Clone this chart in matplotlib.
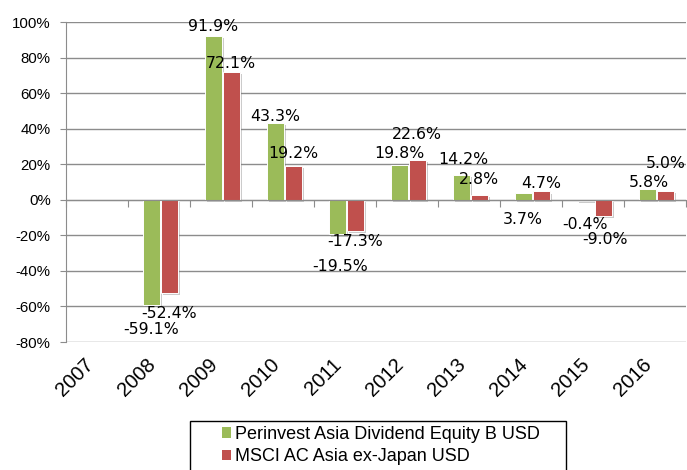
import matplotlib
matplotlib.use('Agg')
import matplotlib.pyplot as plt
import matplotlib.patheffects as pe
from matplotlib.patches import Patch, Rectangle
import numpy as np

years = ['2007', '2008', '2009', '2010', '2011', '2012', '2013', '2014', '2015', '2016']
perinvest = [np.nan, -59.1, 91.9, 43.3, -19.5, 19.8, 14.2, 3.7, -0.4, 5.8]
msci = [np.nan, -52.4, 72.1, 19.2, -17.3, 22.6, 2.8, 4.7, -9.0, 5.0]
series_names = ['Perinvest Asia Dividend Equity B USD', 'MSCI AC Asia ex-Japan USD']

# label placement tweaks (pixels, relative to bar end) - mimics the excel layout
green_dx = [0, 0, 0, 0, 3, 0, 2, 0, 0, 2]
green_dy = [0, -25, 10, 6, -32, 11, 15, -26, -24, 7]
red_dx = [0, 0, 0, 0, 0, 0, 0, 0, 2, 0]
red_dy = [0, -21, 8, 12, -11, 25, 15, 8, -24, 27]

GREEN = '#9BBB59'
RED = '#C0504D'
GRID = '#8c8c8c'

fig = plt.figure(figsize=(6.87, 4.70), dpi=100)
ax = fig.add_axes([66/687, 1-342/470, 620/687, 320/470])

x = np.arange(len(years))
w = 0.28
shadow = [pe.SimplePatchShadow(offset=(1.5, -1.5), shadow_rgbFace='#7f7f7f', alpha=0.4), pe.Normal()]
b1 = ax.bar(x - 0.125, perinvest, w, color=GREEN, edgecolor='white', linewidth=0.7, zorder=3)
b2 = ax.bar(x + 0.165, msci, w, color=RED, edgecolor='white', linewidth=0.7, zorder=3)
for b in list(b1) + list(b2):
    b.set_path_effects(shadow)

lab_font = dict(family='DejaVu Sans', fontsize=11.3, color='black')
for i in range(len(years)):
    if not np.isnan(perinvest[i]):
        ax.annotate(f'{perinvest[i]:.1f}%', (x[i] - 0.125, perinvest[i]), xytext=(green_dx[i], green_dy[i]),
                    textcoords='offset pixels', ha='center', va='center', zorder=5, **lab_font)
    if not np.isnan(msci[i]):
        ax.annotate(f'{msci[i]:.1f}%', (x[i] + 0.165, msci[i]), xytext=(red_dx[i], red_dy[i]),
                    textcoords='offset pixels', ha='center', va='center', zorder=5, **lab_font)

ax.set_xlim(-0.5, 9.5)
ax.set_ylim(-80, 100)
ax.set_yticks(range(-80, 101, 20))
ax.set_yticklabels([f'{v}%' for v in range(-80, 101, 20)], fontsize=10.8, family='Liberation Sans')
ax.grid(True, axis='y', color=GRID, linewidth=1, zorder=0)
ax.set_axisbelow(True)

for s in ['top', 'right']:
    ax.spines[s].set_visible(False)
ax.spines['left'].set_color(GRID)
ax.spines['bottom'].set_color(GRID)
ax.spines['bottom'].set_position(('data', 0))
ax.spines['bottom'].set_zorder(4)
ax.set_xticks(np.arange(-0.5, 10, 1))
ax.set_xticklabels([])
ax.tick_params(axis='x', direction='out', length=5, color=GRID)
ax.tick_params(axis='y', direction='out', length=4, color=GRID, pad=7)

sec = ax.secondary_xaxis('bottom')
sec.set_xticks(x)
sec.set_xticklabels(years, rotation=45, ha='right', va='top', fontsize=14.5, family='Liberation Sans')
sec.tick_params(length=0, pad=9)
sec.spines['bottom'].set_visible(False)

handles = [Patch(facecolor=GREEN), Patch(facecolor=RED)]
fig.legend(handles, series_names, loc='upper left', bbox_to_anchor=(222/687, 1-426/470),
           frameon=False, borderpad=0, borderaxespad=0, handlelength=0.5, handleheight=0.5,
           handletextpad=0.2, labelspacing=0.3, prop={'family': 'Liberation Sans', 'size': 13})
fig.add_artist(Rectangle((190/687, -0.1), 376/687, 0.1 + 1-421/470, transform=fig.transFigure,
                         fill=False, edgecolor='black', linewidth=1))

fig.savefig('out.png', dpi=100)
